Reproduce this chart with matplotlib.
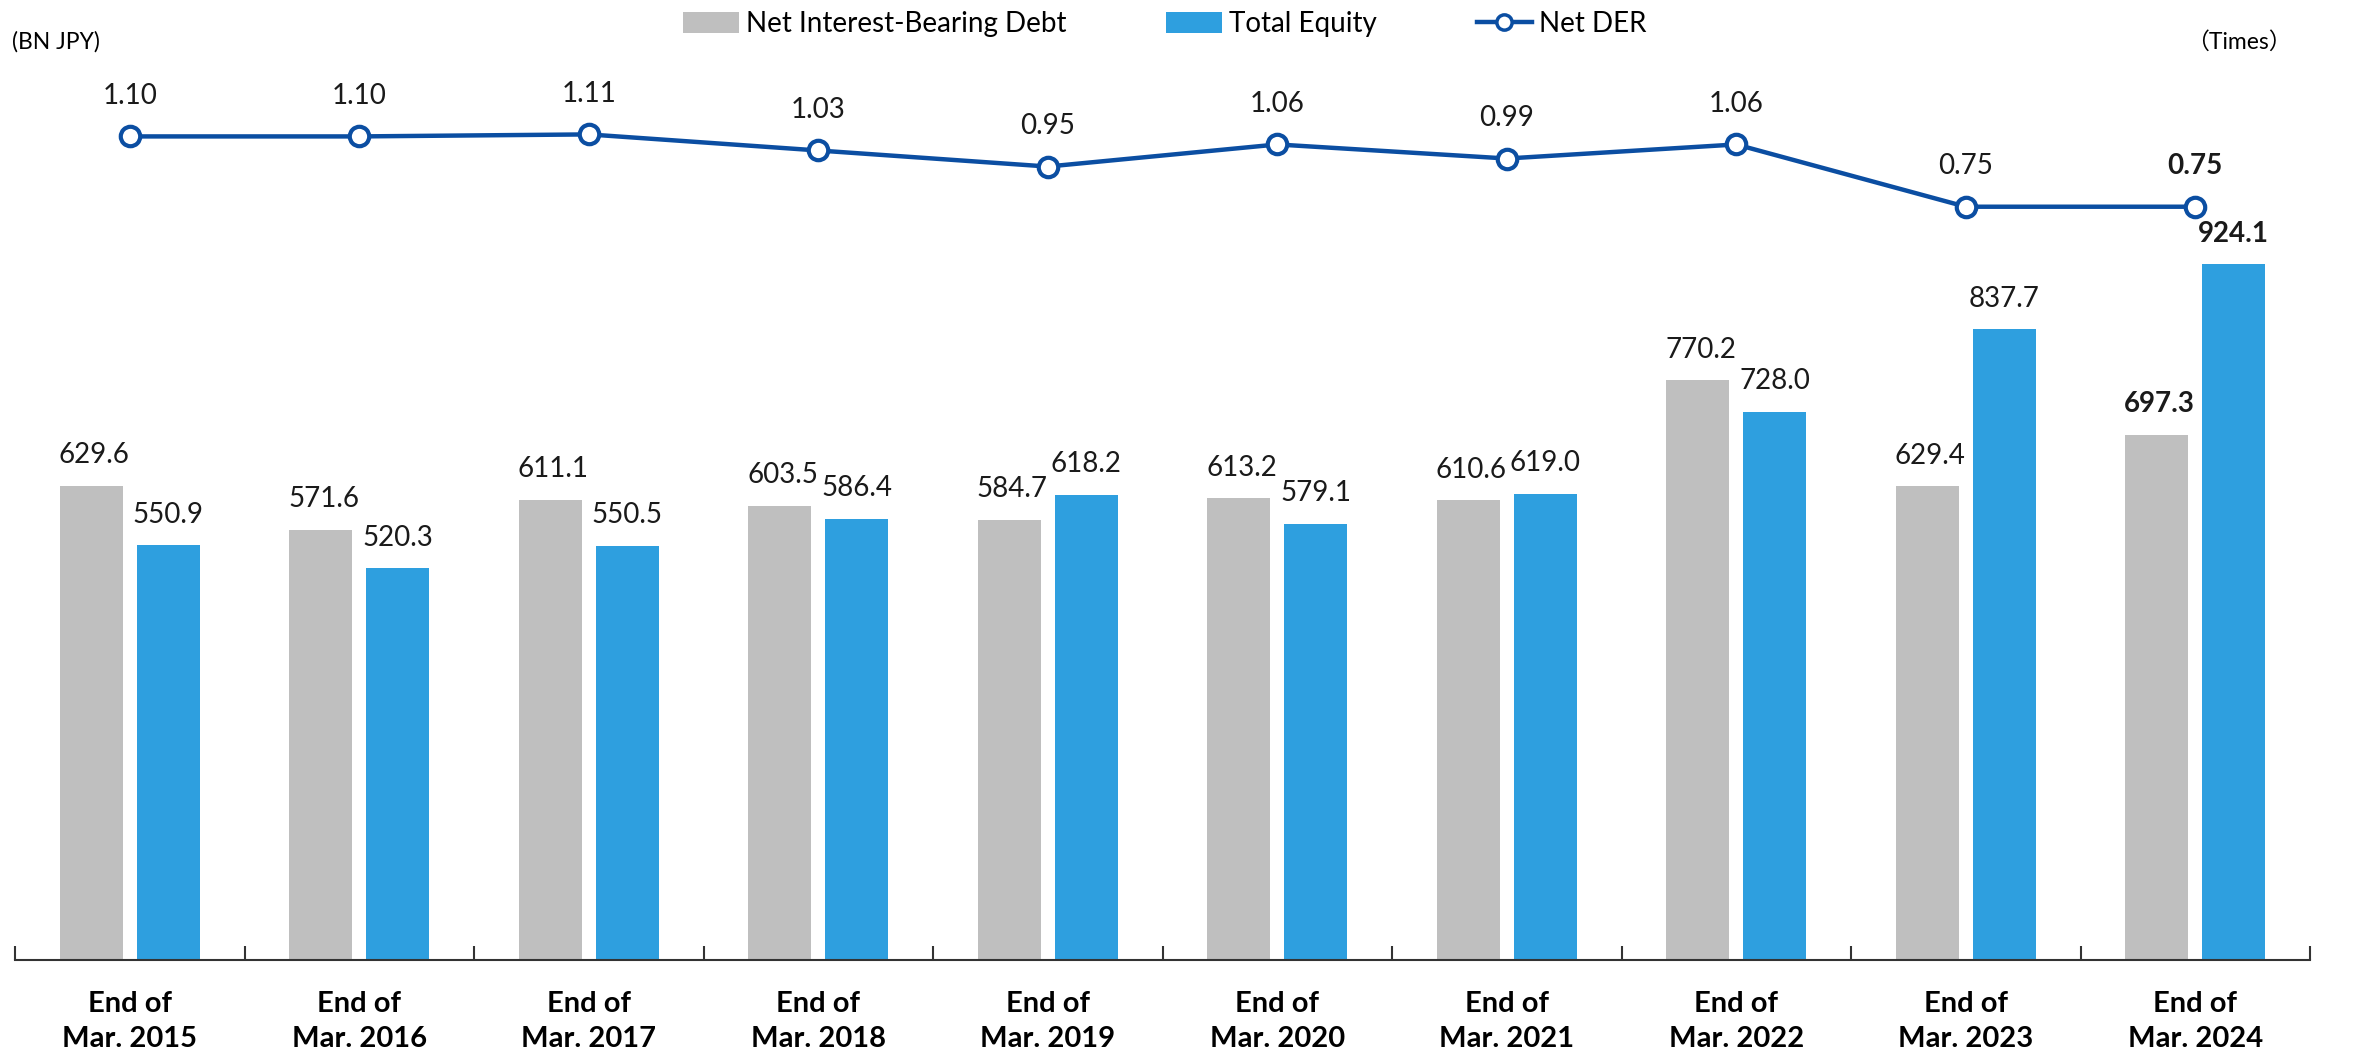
import matplotlib.pyplot as plt
import numpy as np
from matplotlib.patches import Patch
from matplotlib.lines import Line2D

# data
years = ["2015", "2016", "2017", "2018", "2019", "2020", "2021", "2022", "2023", "2024"]
debt = [629.6, 571.6, 611.1, 603.5, 584.7, 613.2, 610.6, 770.2, 629.4, 697.3]
equity = [550.9, 520.3, 550.5, 586.4, 618.2, 579.1, 619.0, 728.0, 837.7, 924.1]
der = [1.10, 1.10, 1.11, 1.03, 0.95, 1.06, 0.99, 1.06, 0.75, 0.75]
labels = ["End of\nMar. " + y for y in years]

GREY = "#BFBFBF"
BLUE = "#2E9FDF"
NAVY = "#0B4EA2"

plt.rcParams["font.family"] = ["Lato", "Noto Sans CJK JP", "DejaVu Sans"]


def main():
    fig = plt.figure(figsize=(23.56, 10.58), dpi=100)
    ax = fig.add_axes([15 / 2356, 98 / 1058, 2295 / 2356, 920 / 1058])
    x = np.arange(len(years))
    w = 0.275
    off = 0.167

    ax.bar(x - off, debt, w, color=GREY)
    ax.bar(x + off, equity, w, color=BLUE)
    ax.set_xlim(-0.5, len(years) - 0.5)
    ax.set_ylim(0, 1222)

    last = len(years) - 1
    for i in x:
        bold = "bold" if i == last else "normal"
        ax.annotate(f"{debt[i]:.1f}", (i - off, debt[i]), xytext=(2, 22),
                    textcoords="offset points", ha="center", va="center",
                    fontsize=20, fontweight=bold, color="#1a1a1a")
        ax.annotate(f"{equity[i]:.1f}", (i + off, equity[i]), xytext=(0, 22),
                    textcoords="offset points", ha="center", va="center",
                    fontsize=20, fontweight=bold, color="#1a1a1a")

    for s in ["top", "right", "left"]:
        ax.spines[s].set_visible(False)
    ax.spines["bottom"].set_linewidth(1.5)
    ax.spines["bottom"].set_color("#333333")
    ax.set_yticks([])
    ax.set_xticks(np.arange(-0.5, len(years), 1.0))
    ax.set_xticklabels([])
    ax.tick_params(axis="x", which="major", direction="in", length=10,
                   width=1.5, color="#333333")
    ax.set_xticks(x, minor=True)
    ax.set_xticklabels(labels, minor=True, fontsize=21, fontweight="bold",
                       linespacing=1.45)
    ax.tick_params(axis="x", which="minor", length=0, pad=22)

    ax2 = ax.twinx()
    ax2.plot(x, der, color=NAVY, lw=3.2, marker="o", markersize=14,
             markerfacecolor="white", markeredgecolor=NAVY, markeredgewidth=3)
    ax2.set_ylim(-3.0, 1.58)
    ax2.axis("off")
    for i in x:
        bold = "bold" if i == last else "normal"
        ax2.annotate(f"{der[i]:.2f}", (i, der[i]), xytext=(0, 29),
                     textcoords="offset points", ha="center", va="center",
                     fontsize=20, fontweight=bold, color="#1a1a1a")

    fig.text(12 / 2356, 1 - 42 / 1058, "(BN JPY)", fontsize=16.5,
             ha="left", va="center")
    fig.text(2292 / 2356, 1 - 42 / 1058, "（Times）", fontsize=16.5,
             ha="right", va="center")

    handles = [
        Patch(facecolor=GREY, label="Net Interest-Bearing Debt"),
        Patch(facecolor=BLUE, label="Total Equity"),
        Line2D([0], [0], color=NAVY, lw=3.2, marker="o", markersize=11,
               markerfacecolor="white", markeredgecolor=NAVY,
               markeredgewidth=2.5, label="Net DER"),
    ]
    fig.legend(handles=handles, loc="center", ncol=3,
               bbox_to_anchor=(1165 / 2356, 1 - 24 / 1058), frameon=False,
               fontsize=20, handlelength=2.0, handleheight=0.8,
               handletextpad=0.25, columnspacing=3.6)

    fig.savefig("out.png", dpi=100)


if __name__ == "__main__":
    main()
